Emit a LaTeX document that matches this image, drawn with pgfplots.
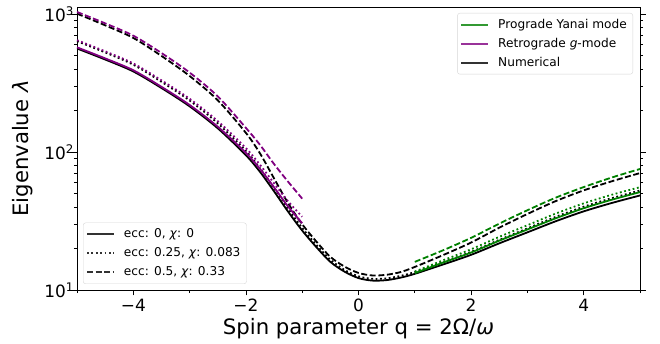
\documentclass[border=0pt]{standalone}
\usepackage{fontspec}
\setmainfont{DejaVu Sans}
\usepackage{pgfplots}
\usepackage{pgfplotstable}
\pgfplotsset{compat=1.18}
\definecolor{mgreen}{HTML}{008000}
\definecolor{mpurple}{HTML}{800080}

\pgfplotstableread{
q l
-5 565
-4.5 470
-4 385
-3.5 292
-3 215
-2.5 149
-2 95
-1.75 72
-1.5 52
-1.25 37
-1 27
-0.75 20.5
-0.5 16
-0.25 13.6
0 12.2
0.25 11.7
0.5 11.8
0.75 12.3
1 13.1
1.5 15.3
2 18.0
2.5 21.8
3 26.2
3.5 31.5
4 37.2
4.5 42.8
5 48.5
}\NumA
\pgfplotstableread{
q l
-5 638
-4.5 529
-4 431
-3.5 324
-3 237
-2.5 162
-2 102
-1.75 76.3
-1.5 54.9
-1.25 38.9
-1 28.2
-0.75 21.3
-0.5 16.6
-0.25 14.0
0 12.57
0.25 12.05
0.5 12.15
0.75 12.67
1 13.5
1.5 15.9
2 18.9
2.5 23.1
3 28.0
3.5 33.9
4 40.2
4.5 46.4
5 52.7
}\NumB
\pgfplotstableread{
q l
-5 1011
-4.5 832
-4 674
-3.5 499
-3 357
-2.5 238
-2 138
-1.75 98
-1.5 64.5
-1.25 42.6
-1 30
-0.75 22.5
-0.5 17.4
-0.25 14.8
0 13.3
0.25 12.75
0.5 12.9
0.75 13.5
1 14.7
1.5 17.9
2 22.1
2.5 28.3
3 35.6
3.5 44.1
4 52.8
4.5 61.5
5 70.5
}\NumC
\pgfplotstableread{
q l
-5 576
-4.5 479
-4 393
-3.5 298
-3 220
-2.5 153
-2 98.8
-1.75 75.6
-1.5 55.6
-1.25 40.3
-1 30.5
}\RetA
\pgfplotstableread{
q l
-5 649
-4.5 539
-4 440
-3.5 332
-3 244
-2.5 168
-2 107
-1.75 81
-1.5 59.5
-1.25 44
-1 34
}\RetB
\pgfplotstableread{
q l
-5 1040
-4.5 860
-4 700
-3.5 524
-3 378
-2.5 254
-2 150
-1.75 113
-1.5 82
-1.25 61
-1 46
}\RetC
\pgfplotstableread{
q l
1 13.25
1.5 15.8
2 18.7
2.5 22.8
3 27.5
3.5 33.1
4 39.2
4.5 45.2
5 51.3
}\ProA
\pgfplotstableread{
q l
1 13.6
1.5 16.4
2 19.75
2.5 24.3
3 29.5
3.5 35.8
4 42.5
4.5 49.1
5 55.7
}\ProB
\pgfplotstableread{
q l
1 16.0
1.5 19.4
2 23.9
2.5 30.3
3 37.9
3.5 46.7
4 55.8
4.5 65.5
5 75.5
}\ProC

\tikzset{
  mdotted/.style={dash pattern=on 1.8bp off 2.6bp},
  mdashed/.style={dash pattern=on 6bp off 2.6bp},
}
\pgfplotsset{
  mylegend/.style={
    legend cell align=left,
    legend image code/.code={\draw[line width=1.8bp, ##1] (0bp,0bp) -- (27bp,0bp);},
    legend style={draw=black!20, rounded corners=2.5bp, fill=white,
      fill opacity=0.8, draw opacity=0.8, text opacity=1,
      font=\fontsize{12.2}{14}\selectfont,
      inner xsep=3bp, inner ysep=2bp, row sep=0bp, column sep=6bp,
      nodes={inner sep=3bp, text height=10bp, text depth=3bp}},
  },
}

\begin{document}
\begin{tikzpicture}
\begin{axis}[
  at={(0,0)}, anchor=south west,
  scale only axis, width=563bp, height=283bp,
  xmin=-5, xmax=5, ymode=log, ymin=10, ymax=1130,
  xtick={-4,-2,0,2,4}, xticklabels={−4,−2,0,2,4},
  minor xtick={-5,-3,-1,1,3,5},
  ytick={10,100,1000},
  yticklabels={10\textsuperscript{1},10\textsuperscript{2},10\textsuperscript{3}},
  minor ytick={20,30,40,50,60,70,80,90,200,300,400,500,600,700,800,900},
  tick align=outside, xtick pos=left, ytick pos=both, yticklabel pos=left,
  major tick length=5.5bp, minor tick length=3.2bp,
  every tick/.style={black, line width=0.8bp},
  axis line style={black, line width=0.9bp},
  ticklabel style={font=\fontsize{17}{20}\selectfont},
  yticklabel style={xshift=6bp},
  xlabel={Spin parameter q = 2Ω/\textit{ω}},
  ylabel={Eigenvalue \textit{λ}},
  every axis x label/.style={at={(axis description cs:0.5,-0.159)}, anchor=base, inner sep=0pt, font=\fontsize{21.3}{25}\selectfont},
  every axis y label/.style={at={(axis description cs:-0.078,0.5)}, rotate=90, anchor=south, inner sep=0pt, font=\fontsize{21.3}{25}\selectfont},
  mylegend,
  legend style={at={(1,1)}, anchor=north east, xshift=-7bp, yshift=-6bp},
  every axis plot/.append style={line width=1.8bp, no marks},
]
\addlegendimage{mgreen}
\addlegendimage{mpurple}
\addlegendimage{black}
\addplot[black, line width=1.8bp, smooth, forget plot] table[x=q,y=l] {\NumA};
\addplot[black, line width=1.8bp, smooth, mdotted, forget plot] table[x=q,y=l] {\NumB};
\addplot[black, line width=1.8bp, smooth, mdashed, forget plot] table[x=q,y=l] {\NumC};
\addplot[mpurple, line width=1.8bp, smooth, forget plot] table[x=q,y=l] {\RetA};
\addplot[mpurple, line width=1.8bp, smooth, mdotted, forget plot] table[x=q,y=l] {\RetB};
\addplot[mpurple, line width=1.8bp, smooth, mdashed, forget plot] table[x=q,y=l] {\RetC};
\addplot[mgreen, line width=1.8bp, smooth, forget plot] table[x=q,y=l] {\ProA};
\addplot[mgreen, line width=1.8bp, smooth, mdotted, forget plot] table[x=q,y=l] {\ProB};
\addplot[mgreen, line width=1.8bp, smooth, mdashed, forget plot] table[x=q,y=l] {\ProC};
\legend{Prograde Yanai mode, Retrograde \textit{g}-mode, Numerical}
\end{axis}
\begin{axis}[
  at={(0,0)}, anchor=south west,
  scale only axis, width=563bp, height=283bp,
  xmin=0, xmax=1, ymin=0, ymax=1, hide axis,
  mylegend,
  legend style={at={(0,0)}, anchor=south west, xshift=6bp, yshift=6bp},
]
\addlegendimage{black}
\addlegendimage{black, mdotted}
\addlegendimage{black, mdashed}
\legend{{ecc: 0, \textit{χ}: 0}, {ecc: 0.25, \textit{χ}: 0.083}, {ecc: 0.5, \textit{χ}: 0.33}}
\end{axis}
\path (-77bp,-54bp) rectangle (583bp,290bp);
\end{tikzpicture}
\end{document}
